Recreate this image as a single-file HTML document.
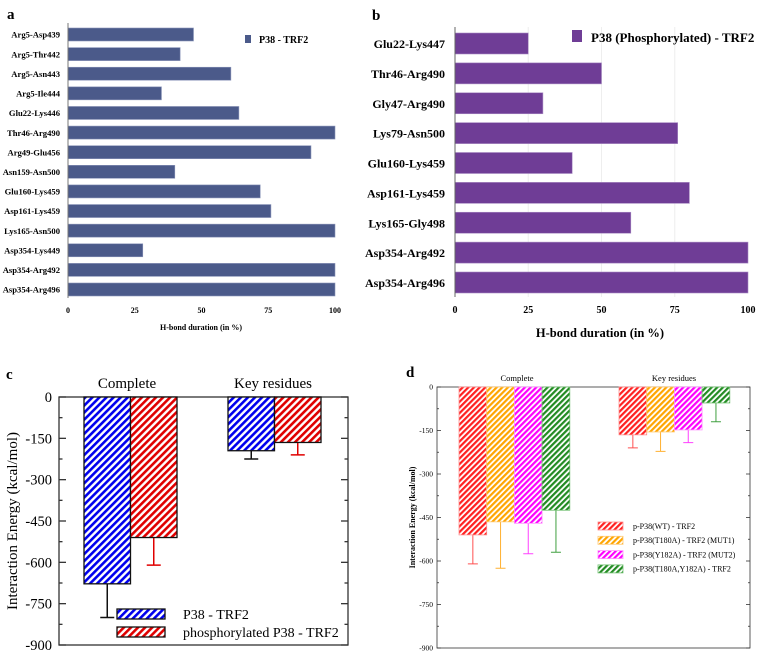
<!DOCTYPE html>
<html><head><meta charset="utf-8"><style>
html,body{margin:0;padding:0;background:#fff;width:760px;height:654px;overflow:hidden}
svg{display:block}
.ser{font-family:"Liberation Serif",serif}
</style></head><body>
<svg id="svg" width="760" height="654" viewBox="0 0 760 654" xmlns="http://www.w3.org/2000/svg" class="ser">
<defs>
<pattern id="hb" width="5" height="5" patternUnits="userSpaceOnUse" patternTransform="rotate(45)"><rect width="5" height="5" fill="#fff"/><rect width="2.6" height="5" fill="#0000ee"/></pattern>
<pattern id="hr" width="5" height="5" patternUnits="userSpaceOnUse" patternTransform="rotate(45)"><rect width="5" height="5" fill="#fff"/><rect width="2.6" height="5" fill="#e00000"/></pattern>
<pattern id="dr" width="4" height="4" patternUnits="userSpaceOnUse" patternTransform="rotate(45)"><rect width="4" height="4" fill="#fff"/><rect width="2.2" height="4" fill="#ff2020"/></pattern>
<pattern id="do" width="4" height="4" patternUnits="userSpaceOnUse" patternTransform="rotate(45)"><rect width="4" height="4" fill="#fff"/><rect width="2.2" height="4" fill="#ffa500"/></pattern>
<pattern id="dm" width="4" height="4" patternUnits="userSpaceOnUse" patternTransform="rotate(45)"><rect width="4" height="4" fill="#fff"/><rect width="2.2" height="4" fill="#ff00ff"/></pattern>
<pattern id="dg" width="4" height="4" patternUnits="userSpaceOnUse" patternTransform="rotate(45)"><rect width="4" height="4" fill="#fff"/><rect width="2.2" height="4" fill="#228b22"/></pattern>
</defs>
<g id="pa"></g>
<g id="pb"></g>
<g id="pc"></g>
<g id="pd"></g>
</svg>
<script>
const aCats=["Arg5-Asp439","Arg5-Thr442","Arg5-Asn443","Arg5-Ile444","Glu22-Lys446","Thr46-Arg490","Arg49-Glu456","Asn159-Asn500","Glu160-Lys459","Asp161-Lys459","Lys165-Asn500","Asp354-Lys449","Asp354-Arg492","Asp354-Arg496"];
const aVals=[47,42,61,35,64,100,91,40,72,76,100,28,100,100];
const bCats=["Glu22-Lys447","Thr46-Arg490","Gly47-Arg490","Lys79-Asn500","Glu160-Lys459","Asp161-Lys459","Lys165-Gly498","Asp354-Arg492","Asp354-Arg496"];
const bVals=[25,50,30,76,40,80,60,100,100];
const xTicks=[0,25,50,75,100];
const cGroups=["Complete","Key residues"];
const cSeries=["P38 - TRF2","phosphorylated P38 - TRF2"];
const cVals=[[-678,-195],[-510,-165]];
const cErr=[[-800,-225],[-610,-210]];
const eTicks=[0,-150,-300,-450,-600,-750,-900];
const dSeries=["p-P38(WT) - TRF2","p-P38(T180A) - TRF2 (MUT1)","p-P38(Y182A) - TRF2 (MUT2)","p-P38(T180A,Y182A) - TRF2"];
const dVals=[[-510,-165],[-465,-155],[-470,-148],[-425,-55]];
const dErr=[[-610,-210],[-625,-222],[-575,-192],[-570,-120]];

const NS="http://www.w3.org/2000/svg";
function mk(p,t,at,txt){const e=document.createElementNS(NS,t);for(const k in at)e.setAttribute(k,at[k]);if(txt!==undefined)e.textContent=txt;p.appendChild(e);return e;}

// Panel A
(function(){
const g=document.getElementById('pa');
const x0=68,x1=335,top=23,bot=298;
const sx=v=>x0+(x1-x0)*v/100;
const step=(289.5-34.5)/(aCats.length-1);
const sy=i=>34.5+i*step;
let t=mk(g,'text',{x:7,y:19,'font-size':15,'font-weight':'bold'},'a');

aCats.forEach((c,i)=>{
 let r=mk(g,'rect',{x:x0,y:sy(i)-6.5,width:sx(aVals[i])-x0,height:13,fill:'#4b5a8a',stroke:'#8a94b8','stroke-width':0.6});
 
 let l=mk(g,'text',{x:60,y:sy(i)+3.2,'font-size':8.6,'font-weight':'bold','text-anchor':'end'},c);
 
});
mk(g,'line',{x1:x0,y1:top,x2:x0,y2:bot,stroke:'#777','stroke-width':1});
xTicks.forEach(v=>{let l=mk(g,'text',{x:sx(v),y:313,'font-size':8,'font-weight':'bold','text-anchor':'middle'},v);});
let xt=mk(g,'text',{x:201,y:330,'font-size':8,'font-weight':'bold','text-anchor':'middle'},'H-bond duration (in %)');

let lg=mk(g,'rect',{x:245,y:35,width:6,height:8,fill:'#4b5a8a'});
let lt=mk(g,'text',{x:259,y:43,'font-size':10,'font-weight':'bold'},'P38 - TRF2');
})();

// Panel B
(function(){
const g=document.getElementById('pb');
const x0=455,x1=748,top=27,bot=297;
const sx=v=>x0+(x1-x0)*v/100;
const step=(282.5-43.5)/(bCats.length-1);
const sy=i=>43.5+i*step;
let t=mk(g,'text',{x:372,y:20,'font-size':15,'font-weight':'bold'},'b');

[25,50,75].forEach(v=>mk(g,'line',{x1:sx(v),y1:top,x2:sx(v),y2:bot,stroke:'#eee','stroke-width':1}));
bCats.forEach((c,i)=>{
 let r=mk(g,'rect',{x:x0,y:sy(i)-10.5,width:sx(bVals[i])-x0,height:21,fill:'#6f3d96',stroke:'#a98cc4','stroke-width':0.6});
 
 let l=mk(g,'text',{x:445,y:sy(i)+4.5,'font-size':12,'font-weight':'bold','text-anchor':'end'},c);
 
});
mk(g,'line',{x1:x0,y1:top,x2:x0,y2:bot,stroke:'#666','stroke-width':1});
xTicks.forEach(v=>{let l=mk(g,'text',{x:sx(v),y:313,'font-size':10,'font-weight':'bold','text-anchor':'middle'},v);});
let xt=mk(g,'text',{x:600,y:337,'font-size':12.5,'font-weight':'bold','text-anchor':'middle'},'H-bond duration (in %)');

let lg=mk(g,'rect',{x:572,y:30,width:10,height:12,fill:'#6f3d96'});
let lt=mk(g,'text',{x:591,y:42,'font-size':13,'font-weight':'bold'},'P38 (Phosphorylated) - TRF2');
})();

function energy(g,o){
 const sy=v=>o.y0+(o.y1-o.y0)*(v/-900);
 mk(g,'rect',{x:o.x0,y:o.y0,width:o.x1-o.x0,height:o.y1-o.y0,fill:'none',stroke:'#333','stroke-width':o.sw});
 for(let v=0;v>=-900;v-=75){
  const maj=(v%150===0);const L=maj?o.tl:o.tl/2;const y=sy(v);
  mk(g,'line',{x1:o.x0,y1:y,x2:o.x0+L,y2:y,stroke:'#333','stroke-width':o.sw});
  mk(g,'line',{x1:o.x1,y1:y,x2:o.x1-L,y2:y,stroke:'#333','stroke-width':o.sw});
 }
 eTicks.forEach(v=>{let l=mk(g,'text',{x:o.x0-o.tlx,y:sy(v)+o.fs*0.35,'font-size':o.fs,'text-anchor':'end'},v===0?'0':'-'+Math.abs(v));});
 o.vals.forEach((ser,s)=>ser.forEach((v,gi)=>{
  const x=o.gx[gi]+s*o.bw;
  const ey=sy(o.err[s][gi]);const cx=x+o.bw/2;
  let e=mk(g,'path',{d:`M${cx},${sy(v)}V${ey}M${cx-o.cap},${ey}H${cx+o.cap}`,stroke:o.ecol[s],'stroke-width':o.ew,fill:'none'});
  
  let r=mk(g,'rect',{x:x,y:o.y0,width:o.bw,height:sy(v)-o.y0,fill:'url(#'+o.pat[s]+')',stroke:o.bstroke[s],'stroke-width':o.bsw});
  
 }));
 cGroups.forEach((c,i)=>{let l=mk(g,'text',{x:o.gc[i],y:o.gy,'font-size':o.gfs,'text-anchor':'middle'},c);});
 let yt=mk(g,'text',{x:0,y:0,'font-size':o.yfs,'text-anchor':'middle','font-weight':o.ybold?'bold':'normal',transform:`translate(${o.ytx},${(o.y0+o.y1)/2}) rotate(-90)`},'Interaction Energy (kcal/mol)');
 
 o.series.forEach((s,i)=>{
  let r=mk(g,'rect',{x:o.lx,y:o.ly+i*o.lstep,width:o.lw,height:o.lh,fill:'url(#'+o.pat[i]+')',stroke:o.bstroke[i],'stroke-width':o.bsw});
  
  let t=mk(g,'text',{x:o.ltx,y:o.ly+i*o.lstep+o.lh/2+o.lfs*0.35,'font-size':o.lfs},s);
  
 });
}
(function(){
const g=document.getElementById('pc');
let t=mk(g,'text',{x:6,y:379,'font-size':15,'font-weight':'bold'},'c');
energy(g,{name:'c',x0:59,x1:348,y0:397,y1:645,sw:1.3,tl:7,tlx:7,fs:14.5,vals:cVals,err:cErr,gx:[84,228],bw:46.5,cap:7,ew:1.5,
 ecol:['#111','#e00000'],pat:['hb','hr'],bstroke:['#111','#111'],bsw:1.3,gc:[127,273],gy:388,gfs:15,yfs:15,ytx:17,
 series:cSeries,lx:117,ly:609,lstep:18,lw:48,lh:10,ltx:183,lfs:14});
})();
(function(){
const g=document.getElementById('pd');
let t=mk(g,'text',{x:406,y:377,'font-size':15,'font-weight':'bold'},'d');
energy(g,{name:'d',x0:437,x1:750,y0:387,y1:648,sw:0.8,tl:4,tlx:4,fs:7.5,vals:dVals,err:dErr,gx:[459,619],bw:27.7,cap:5,ew:1,
 ecol:['#ff5050','#ffb030','#ff40ff','#40a040'],pat:['dr','do','dm','dg'],bstroke:['#ff9090','#ffc870','#ff90ff','#70c070'],bsw:0.8,gc:[517,674],gy:381,gfs:8.5,yfs:8,ytx:415,ybold:true,
 series:dSeries,lx:598,ly:522,lstep:14.3,lw:25,lh:8,ltx:633,lfs:8});
})();
</script>
</body></html>
